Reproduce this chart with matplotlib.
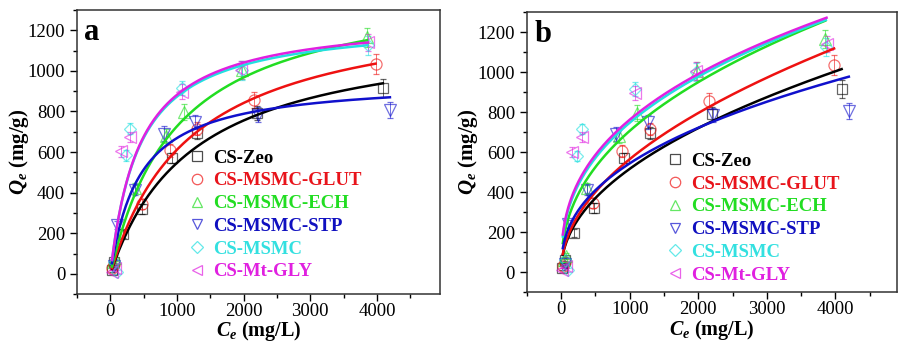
import numpy as np
import matplotlib
matplotlib.use("Agg")
import matplotlib.pyplot as plt
from matplotlib.lines import Line2D
from matplotlib.ticker import MultipleLocator

plt.rcParams['font.family'] = ['Liberation Serif', 'DejaVu Serif']
plt.rcParams['mathtext.fontset'] = 'custom'
plt.rcParams['mathtext.it'] = 'Liberation Serif:bold:italic'
plt.rcParams['mathtext.rm'] = 'Liberation Serif:bold'

# ---- isotherm data (Ce in mg/L, Qe in mg/g) ----
names = ['CS-Zeo', 'CS-MSMC-GLUT', 'CS-MSMC-ECH', 'CS-MSMC-STP', 'CS-MSMC', 'CS-Mt-GLY']

ce_zeo = [20, 50, 195, 475, 920, 1300, 2200, 4090]
qe_zeo = [20, 60, 198, 319, 572, 694, 793, 917]
err_zeo = [10, 15, 20, 25, 25, 30, 35, 45]

ce_glut = [30, 60, 470, 890, 1300, 2150, 3980]
qe_glut = [30, 50, 345, 608, 716, 856, 1035]
err_glut = [10, 15, 25, 30, 30, 40, 50]

ce_ech = [40, 70, 375, 840, 1100, 1980, 3850]
qe_ech = [60, 80, 421, 680, 798, 1005, 1165]
err_ech = [15, 15, 25, 35, 40, 45, 45]

ce_stp = [50, 105, 375, 800, 1265, 2210, 4195]
qe_stp = [40, 240, 413, 691, 749, 785, 807]
err_stp = [15, 20, 25, 35, 35, 35, 40]

ce_msmc = [60, 100, 229, 300, 1080, 1970, 3860]
qe_msmc = [60, 10, 583, 716, 914, 1002, 1125]
err_msmc = [15, 10, 25, 25, 35, 45, 45]

ce_gly = [20, 70, 165, 300, 1080, 1966, 3870]
qe_gly = [10, 30, 603, 674, 898, 1005, 1140]
err_gly = [10, 10, 25, 25, 35, 45, 40]

# fitted Langmuir parameters (qm, KL) and Freundlich parameters (KF, 1/n)
lang_qm = [1222, 1349, 1447, 960, 1253, 1269]
lang_kl = [0.00081, 0.00083, 0.00101, 0.0023, 0.0023, 0.00228]
freu_kf = [18.9, 18.7, 37.0, 32.5, 51.6, 56.0]
freu_n_inv = [0.479, 0.4935, 0.427, 0.408, 0.387, 0.378]

ce_all = [ce_zeo, ce_glut, ce_ech, ce_stp, ce_msmc, ce_gly]
qe_all = [qe_zeo, qe_glut, qe_ech, qe_stp, qe_msmc, qe_gly]
err_all = [err_zeo, err_glut, err_ech, err_stp, err_msmc, err_gly]

line_colors = ['#000000', '#ee1111', '#22dd22', '#1010cc', '#22e0e0', '#e020e0']
text_colors = ['#000000', '#e8141b', '#22dd22', '#1010c0', '#33e0e0', '#e020e0']
markers = ['s', 'o', '^', 'v', 'D', '<']
msizes = [7, 8, 8, 8, 6.5, 8]


def langmuir(c, qm, k):
    return qm * k * c / (1 + k * c)


def freundlich(c, kf, n_inv):
    return kf * c ** n_inv


def draw_panel(ax, model, params, letter, leg_anchor, xmax):
    for i in range(len(names)):
        ax.errorbar(ce_all[i], qe_all[i], yerr=err_all[i], fmt=markers[i],
                    ms=msizes[i], mfc='none', mec=line_colors[i], mew=0.9,
                    ecolor=line_colors[i], elinewidth=0.7, capsize=2.5,
                    alpha=0.6, zorder=2)
    for i in range(len(names)):
        c = np.linspace(25, max(ce_all[i]), 300)
        ax.plot(c, model(c, *params[i]), color=line_colors[i], lw=1.8, zorder=3)

    ax.set_xlim(-500, xmax)
    ax.set_ylim(-100, 1300)
    ax.xaxis.set_major_locator(MultipleLocator(1000))
    ax.xaxis.set_minor_locator(MultipleLocator(500))
    ax.yaxis.set_major_locator(MultipleLocator(200))
    ax.yaxis.set_minor_locator(MultipleLocator(100))
    ax.tick_params(which='both', direction='out', top=False, right=False,
                   labelsize=13.5, width=1)
    ax.tick_params(which='major', length=5)
    ax.tick_params(which='minor', length=3)
    ax.tick_params(axis='x', pad=1.5)
    for s in ax.spines.values():
        s.set_color('#333333')
        s.set_linewidth(1.1)

    ax.set_xlabel(r'$C_e$ (mg/L)', fontsize=14.5, fontweight='bold', labelpad=-0.5)
    ax.set_ylabel(r'$Q_e$ (mg/g)', fontsize=15, fontweight='bold', labelpad=-2)
    ax.text(0.02, 0.92, letter, transform=ax.transAxes, fontsize=22,
            fontweight='bold', va='center', ha='left')

    handles = [Line2D([], [], ls='none', marker=markers[i], ms=msizes[i] - 0.5,
                      mfc='none', mec=line_colors[i], mew=0.9, alpha=0.7)
               for i in range(len(names))]
    leg = ax.legend(handles, names, loc='upper left', bbox_to_anchor=leg_anchor,
                    frameon=False, fontsize=13.5, handletextpad=0.25,
                    labelspacing=0.3, handlelength=1.2, borderaxespad=0)
    for t, col in zip(leg.get_texts(), text_colors):
        t.set_color(col)
        t.set_fontweight('bold')


fig = plt.figure(figsize=(8.99, 3.44), dpi=100)
ax_a = fig.add_axes([0.0857, 0.145, 0.404, 0.826])
ax_b = fig.add_axes([0.586, 0.150, 0.412, 0.815])

draw_panel(ax_a, langmuir, list(zip(lang_qm, lang_kl)), 'a', (0.28, 0.535), 4950)
draw_panel(ax_b, freundlich, list(zip(freu_kf, freu_n_inv)), 'b', (0.35, 0.525), 4900)

fig.savefig('out.png', dpi=100)
